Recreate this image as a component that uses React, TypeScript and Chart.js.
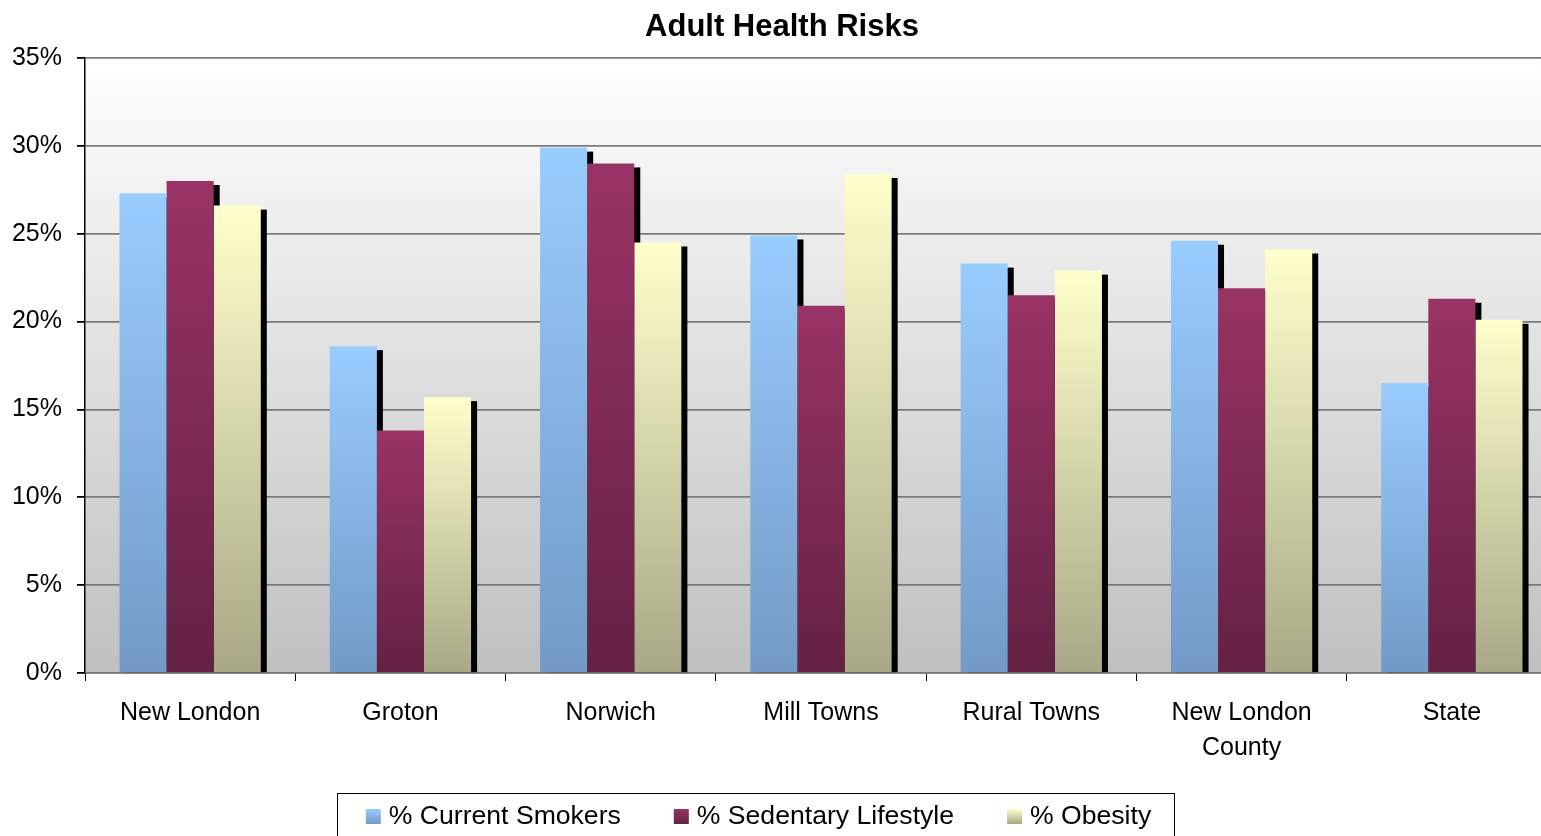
import React, { useEffect, useRef } from "react";
import { Chart, registerables } from "chart.js";

Chart.register(...registerables);

const categories: (string | string[])[] = [
  "New London",
  "Groton",
  "Norwich",
  "Mill Towns",
  "Rural Towns",
  ["New London", "County"],
  "State",
];
const smokers = [27.3, 18.6, 29.9, 24.9, 23.3, 24.6, 16.5];
const sedentary = [28.0, 13.8, 29.0, 20.9, 21.5, 21.9, 21.3];
const obesity = [26.6, 15.7, 24.5, 28.4, 22.9, 24.1, 20.1];
const seriesNames = ["% Current Smokers", "% Sedentary Lifestyle", "% Obesity"];
const yTicks = [0, 5, 10, 15, 20, 25, 30, 35];

const FONT = "'Liberation Sans', Arial, sans-serif";
const palettes: [string, string][] = [
  ["#99ccff", "#739ac6"],
  ["#993366", "#642144"],
  ["#ffffcc", "#a8a887"],
];

const barGradient = (top: string, bottom: string) => (ctx: any) => {
  const chart = ctx.chart;
  if (!chart.chartArea || ctx.type !== "data") return top;
  const yScale = chart.scales.y;
  const v = ctx.raw as number;
  const yTop = yScale.getPixelForValue(v);
  const yBot = yScale.getPixelForValue(0);
  if (!isFinite(yTop) || !isFinite(yBot) || yTop === yBot) return top;
  const g = chart.ctx.createLinearGradient(0, yTop, 0, yBot);
  g.addColorStop(0, top);
  g.addColorStop(1, bottom);
  return g;
};

const backgroundPlugin = {
  id: "plotBg",
  beforeDraw(chart: any) {
    const { ctx, chartArea } = chart;
    if (!chartArea) return;
    ctx.save();
    ctx.fillStyle = "#ffffff";
    ctx.fillRect(0, 0, chart.width, chart.height);
    const g = ctx.createLinearGradient(0, chartArea.top, 0, chartArea.bottom);
    g.addColorStop(0, "#ffffff");
    g.addColorStop(1, "#c0c0c0");
    ctx.fillStyle = g;
    ctx.fillRect(chartArea.left, chartArea.top, chartArea.right - chartArea.left, chartArea.bottom - chartArea.top);
    ctx.restore();
  },
};

const shadowPlugin = {
  id: "barShadow",
  beforeDatasetsDraw(chart: any) {
    const { ctx, chartArea } = chart;
    ctx.save();
    ctx.beginPath();
    ctx.rect(chartArea.left, chartArea.top, chartArea.right - chartArea.left, chartArea.bottom - chartArea.top);
    ctx.clip();
    ctx.fillStyle = "#000";
    chart.data.datasets.forEach((_: any, i: number) => {
      const meta = chart.getDatasetMeta(i);
      meta.data.forEach((bar: any) => {
        const { x, y, base, width } = bar.getProps(["x", "y", "base", "width"], true);
        ctx.fillRect(x - width / 2 + 6, y + 4, width, base - y - 4);
      });
    });
    ctx.restore();
  },
};

const titleLegendPlugin = {
  id: "titleLegend",
  afterDraw(chart: any) {
    const { ctx } = chart;
    ctx.save();
    // Title
    ctx.fillStyle = "#000";
    ctx.font = `bold 31px ${FONT}`;
    ctx.textAlign = "center";
    ctx.textBaseline = "alphabetic";
    ctx.fillText("Adult Health Risks", 782, 36);

    // Legend box
    const boxL = 337, boxR = 1174, boxT = 793;
    ctx.strokeStyle = "#000";
    ctx.lineWidth = 1;
    ctx.strokeRect(boxL + 0.5, boxT + 0.5, boxR - boxL, 80);

    ctx.font = `26.6px ${FONT}`;
    ctx.textAlign = "left";
    const sw = 15, gapT = 8, gapItem = 53;
    const widths = seriesNames.map((n) => ctx.measureText(n).width);
    const total = widths.reduce((a, w) => a + sw + gapT + w, 0) + gapItem * (seriesNames.length - 1);
    let x = (boxL + boxR) / 2 - total / 2 + 3;
    const baseline = 824;
    seriesNames.forEach((n, i) => {
      const g = ctx.createLinearGradient(0, baseline - sw, 0, baseline);
      g.addColorStop(0, palettes[i][0]);
      g.addColorStop(1, palettes[i][1]);
      ctx.fillStyle = g;
      ctx.fillRect(x, baseline - sw, sw, sw);
      ctx.fillStyle = "#000";
      ctx.fillText(n, x + sw + gapT, baseline);
      x += sw + gapT + widths[i] + gapItem;
    });
    ctx.restore();
  },
};

export default function App() {
  const ref = useRef<HTMLCanvasElement>(null);
  useEffect(() => {
    if (!ref.current) return;
    const chart = new Chart(ref.current, {
      type: "bar",
      data: {
        labels: categories,
        datasets: [smokers, sedentary, obesity].map((d, i) => ({
          label: seriesNames[i],
          data: d,
          backgroundColor: barGradient(palettes[i][0], palettes[i][1]),
          borderWidth: 0,
          categoryPercentage: 0.672,
          barPercentage: 1,
        })),
      },
      options: {
        responsive: false,
        animation: false,
        devicePixelRatio: 1,
        layout: { padding: { top: 58, right: 0, bottom: 0, left: 0 } },
        plugins: {
          legend: { display: false },
          title: { display: false },
          tooltip: { enabled: false },
        },
        scales: {
          x: {
            offset: true,
            grid: {
              offset: true,
              drawOnChartArea: false,
              drawTicks: true,
              tickLength: 8,
              tickColor: "#000",
            },
            border: { color: "#777", width: 1.5 },
            ticks: {
              color: "#000",
              font: { family: FONT, size: 25, lineHeight: 1.4 },
              padding: 15,
              maxRotation: 0,
              autoSkip: false,
            },
            afterFit(scale: any) {
              scale.height = 163;
            },
          },
          y: {
            min: 0,
            max: 35,
            afterBuildTicks(scale: any) {
              scale.ticks = yTicks.map((v) => ({ value: v }));
            },
            grid: {
              color: "#7a7a7a",
              lineWidth: 1.8,
              tickLength: 8,
              tickColor: "#000",
            },
            border: { color: "#000", width: 1.5 },
            ticks: {
              color: "#000",
              font: { family: FONT, size: 25 },
              padding: 15,
              callback: (v: any) => `${v}%`,
            },
            afterFit(scale: any) {
              scale.width = 85;
            },
          },
        },
      },
      plugins: [backgroundPlugin, shadowPlugin, titleLegendPlugin],
    } as any);
    return () => chart.destroy();
  }, []);
  return (
    <div
      style={{
        position: "absolute",
        left: 0,
        top: 0,
        width: 1541,
        height: 836,
        overflow: "hidden",
        background: "#fff",
      }}
    >
      <canvas ref={ref} width={1557} height={836} style={{ display: "block" }} />
    </div>
  );
}
